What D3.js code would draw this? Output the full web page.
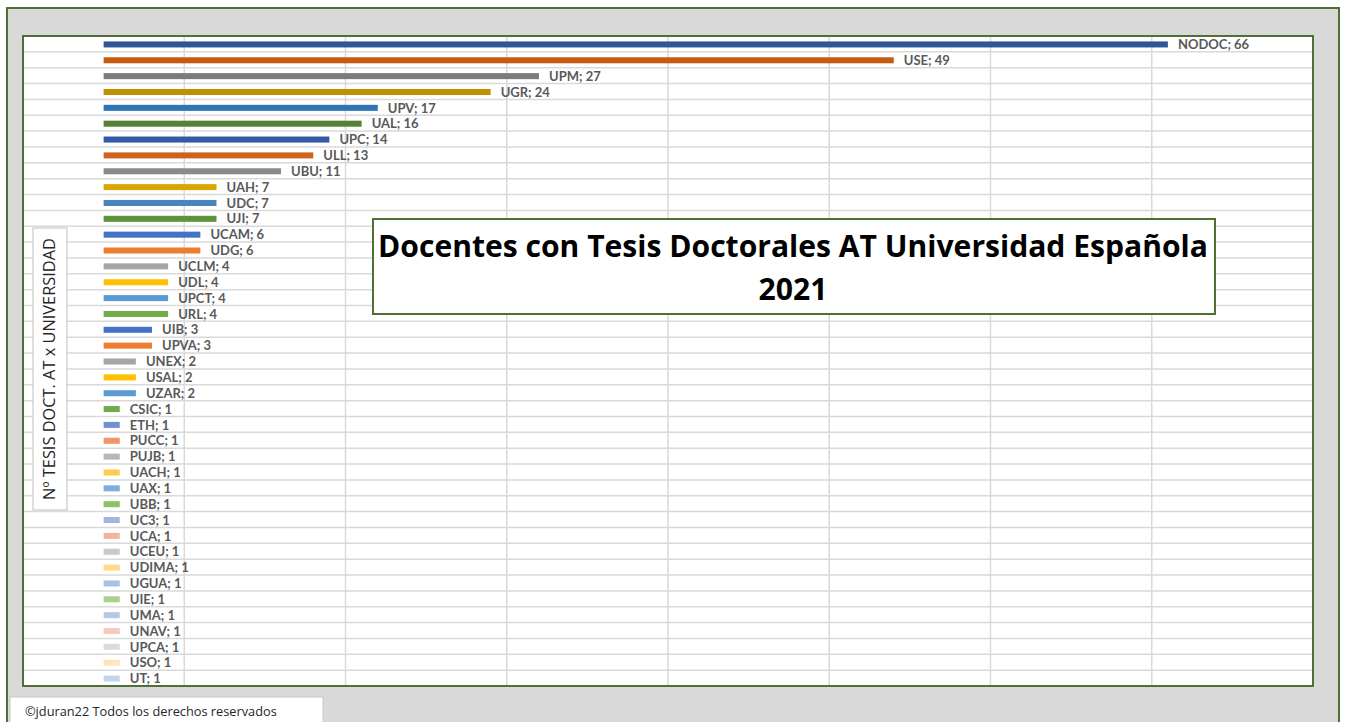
<!DOCTYPE html>
<html>
<head>
<meta charset="utf-8">
<script src="https://cdn.jsdelivr.net/npm/d3@7"></script>
<style>
  body { margin: 0; background: #fff; }
  svg { display: block; }
</style>
</head>
<body>
<div id="chart"></div>
<script>
// datos
const universidades = ['NODOC', 'USE', 'UPM', 'UGR', 'UPV', 'UAL', 'UPC', 'ULL', 'UBU', 'UAH',
  'UDC', 'UJI', 'UCAM', 'UDG', 'UCLM', 'UDL', 'UPCT', 'URL', 'UIB', 'UPVA', 'UNEX', 'USAL',
  'UZAR', 'CSIC', 'ETH', 'PUCC', 'PUJB', 'UACH', 'UAX', 'UBB', 'UC3', 'UCA', 'UCEU', 'UDIMA',
  'UGUA', 'UIE', 'UMA', 'UNAV', 'UPCA', 'USO', 'UT'];
const tesis = [66, 49, 27, 24, 17, 16, 14, 13, 11, 7, 7, 7, 6, 6, 4, 4, 4, 4, 3, 3, 2, 2, 2,
  1, 1, 1, 1, 1, 1, 1, 1, 1, 1, 1, 1, 1, 1, 1, 1, 1, 1];
const gridTicks = [-5, 5, 15, 25, 35, 45, 55, 65, 75];

const titulo = ['Docentes con Tesis Doctorales AT Universidad Española', '2021'];
const tituloEje = 'Nº TESIS DOCT. AT x UNIVERSIDAD';
const copyright = '©jduran22 Todos los derechos reservados';

// paleta tipo Excel (se repite cada 6 barras, cada vez mas clara)
const palette = [
  '#2F5597', '#C55A11', '#7B7B7B', '#BF9000', '#2E75B6', '#548235',
  '#3558A8', '#D0621E', '#8A8A8A', '#DDA300', '#4A83C0', '#5D943B',
  '#4472C4', '#ED7D31', '#A5A5A5', '#FFC000', '#5B9BD5', '#70AD47',
  '#4472C4', '#ED7D31', '#A5A5A5', '#FFC000', '#5B9BD5', '#70AD47',
  '#7190D4', '#F29566', '#B7B7B7', '#FFCD4D', '#7CAFDD', '#8CC168',
  '#A3B4DE', '#F2B49A', '#C9C9C9', '#FFD98A', '#A6C3E3', '#A9D18E',
  '#BAC6E6', '#F6C9BA', '#DBDBDB', '#FFE3BA', '#C3D5EE'
];

const width = 1349, height = 722;
const plot = { left: 23, top: 36, right: 1313, bottom: 686 };

const svg = d3.select('#chart').append('svg')
  .attr('width', width)
  .attr('height', height);

// ajusta el tamaño de letra para que el texto ocupe el ancho pedido
function fitText(sel, target) {
  const size = parseFloat(sel.style('font-size'));
  const len = sel.node().getComputedTextLength();
  sel.style('font-size', (size * target / len).toFixed(2) + 'px');
}

// marco exterior gris
svg.append('rect')
  .attr('x', 7).attr('y', 8)
  .attr('width', 1332).attr('height', 740)
  .attr('fill', '#d9d9d9')
  .attr('stroke', '#4f6f35')
  .attr('stroke-width', 2);

// area de trazado
svg.append('rect')
  .attr('x', plot.left).attr('y', plot.top)
  .attr('width', plot.right - plot.left).attr('height', plot.bottom - plot.top)
  .attr('fill', '#fff');

const x = d3.scaleLinear()
  .domain([-5, 75])
  .range([plot.left, plot.right]);

const y = d3.scaleBand()
  .domain(universidades)
  .range([plot.top, plot.bottom])
  .paddingInner(0.62)
  .paddingOuter(0.31);

// lineas horizontales entre categorias
const rowLines = d3.range(1, universidades.length).map(i => plot.top + i * (plot.bottom - plot.top) / universidades.length);
svg.append('g')
  .selectAll('line')
  .data(rowLines)
  .enter().append('line')
  .attr('x1', plot.left).attr('x2', plot.right)
  .attr('y1', d => d).attr('y2', d => d)
  .attr('stroke', '#d9d9d9')
  .attr('stroke-width', 1.5);

// lineas verticales
svg.append('g')
  .selectAll('line')
  .data(gridTicks)
  .enter().append('line')
  .attr('x1', d => x(d)).attr('x2', d => x(d))
  .attr('y1', plot.top).attr('y2', plot.bottom)
  .attr('stroke', '#d9d9d9')
  .attr('stroke-width', 1.5);

// barras
const data = universidades.map((u, i) => ({ nombre: u, valor: tesis[i], color: palette[i % palette.length] }));

svg.append('g')
  .selectAll('rect')
  .data(data)
  .enter().append('rect')
  .attr('x', x(0))
  .attr('y', d => y(d.nombre) + 0.5)
  .attr('width', d => x(d.valor) - x(0))
  .attr('height', y.bandwidth())
  .attr('fill', d => d.color);

// etiquetas
svg.append('g')
  .selectAll('text')
  .data(data)
  .enter().append('text')
  .attr('x', d => x(d.valor) + 10)
  .attr('y', d => y(d.nombre) + y.bandwidth() / 2 + 0.5)
  .attr('dy', '0.36em')
  .style('font-family', 'Lato, "Open Sans", sans-serif')
  .style('font-size', '13px')
  .style('font-weight', '700')
  .style('fill', '#595959')
  .text(d => `${d.nombre}; ${d.valor}`);

// borde del area de trazado
svg.append('rect')
  .attr('x', plot.left).attr('y', plot.top)
  .attr('width', plot.right - plot.left).attr('height', plot.bottom - plot.top)
  .attr('fill', 'none')
  .attr('stroke', '#4f6f35')
  .attr('stroke-width', 2);

// titulo eje
svg.append('rect')
  .attr('x', 33).attr('y', 228)
  .attr('width', 34).attr('height', 282)
  .attr('fill', '#fff')
  .attr('stroke', '#bfbfbf')
  .attr('stroke-width', 1);

const ejeTxt = svg.append('text')
  .attr('transform', 'translate(55,369) rotate(-90)')
  .attr('text-anchor', 'middle')
  .style('font-family', '"Open Sans", Lato, sans-serif')
  .style('font-size', '13px')
  .style('fill', '#262626')
  .text(tituloEje);
fitText(ejeTxt, 262);

// caja de titulo
svg.append('rect')
  .attr('x', 373).attr('y', 219)
  .attr('width', 842).attr('height', 95)
  .attr('fill', '#fff')
  .attr('stroke', '#4f6f35')
  .attr('stroke-width', 2);

const t1 = svg.append('text')
  .attr('x', 793).attr('y', 257)
  .attr('text-anchor', 'middle')
  .style('font-family', '"Open Sans", Lato, sans-serif')
  .style('font-size', '26px')
  .style('font-weight', '700')
  .style('fill', '#000')
  .text(titulo[0]);
fitText(t1, 830);

svg.append('text')
  .attr('x', 793).attr('y', 300)
  .attr('text-anchor', 'middle')
  .style('font-family', '"Open Sans", Lato, sans-serif')
  .style('font-size', t1.style('font-size'))
  .style('font-weight', '700')
  .style('fill', '#000')
  .text(titulo[1]);

// copyright
svg.append('rect')
  .attr('x', 10).attr('y', 697)
  .attr('width', 313).attr('height', 30)
  .attr('fill', '#fff')
  .attr('stroke', '#c8c8c8')
  .attr('stroke-width', 1);

const cTxt = svg.append('text')
  .attr('x', 25).attr('y', 716)
  .style('font-family', '"Open Sans", Lato, sans-serif')
  .style('font-size', '12px')
  .style('fill', '#262626')
  .text(copyright);
fitText(cTxt, 252);
</script>
</body>
</html>
